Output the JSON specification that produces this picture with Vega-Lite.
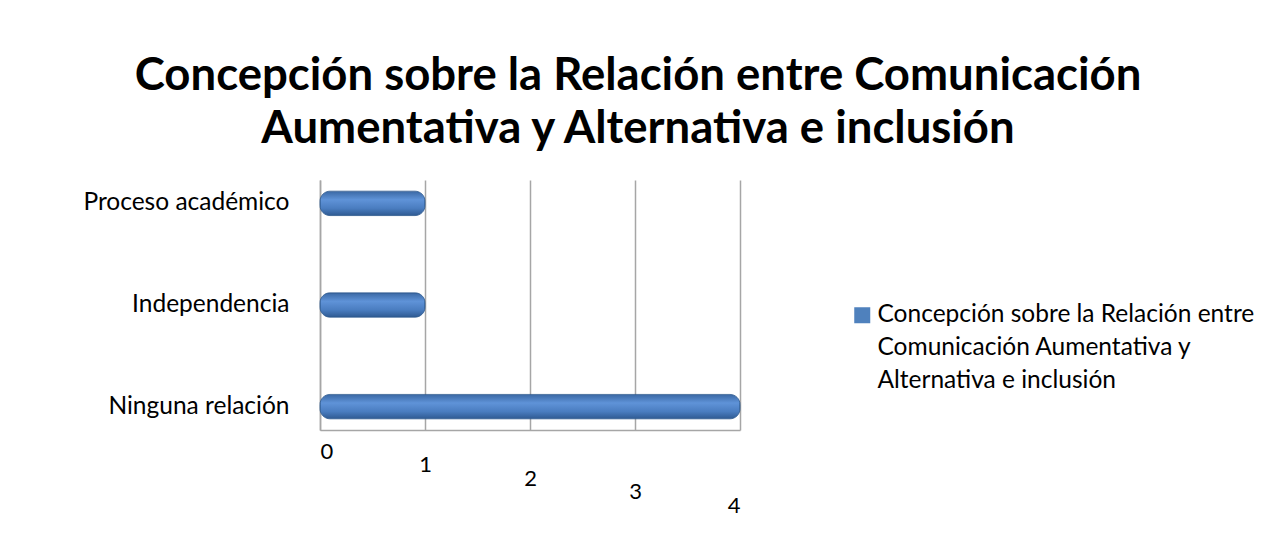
{
  "$schema": "https://vega.github.io/schema/vega-lite/v6.json",
  "autosize": "none",
  "width": 420,
  "height": 250,
  "padding": {"left": 320, "top": 180, "right": 541, "bottom": 107},
  "background": "white",
  "title": {
    "text": ["Concepción sobre la Relación entre Comunicación", "Aumentativa y Alternativa e inclusión"],
    "font": "Lato",
    "fontSize": 45.5,
    "fontWeight": "bold",
    "color": "#000000",
    "anchor": "middle",
    "frame": "group",
    "dx": 108,
    "lineHeight": 53,
    "offset": 28
  },
  "config": {
    "view": {"stroke": null},
    "font": "Lato"
  },
  "data": {
    "values": [
      {"categoria": "Proceso académico", "valor": 1, "serie": "Concepción sobre la Relación entre Comunicación Aumentativa y Alternativa e inclusión"},
      {"categoria": "Independencia", "valor": 1, "serie": "Concepción sobre la Relación entre Comunicación Aumentativa y Alternativa e inclusión"},
      {"categoria": "Ninguna relación", "valor": 4, "serie": "Concepción sobre la Relación entre Comunicación Aumentativa y Alternativa e inclusión"}
    ]
  },
  "encoding": {
    "y": {
      "field": "categoria",
      "type": "nominal",
      "sort": ["Proceso académico", "Independencia", "Ninguna relación"],
      "scale": {"paddingInner": 0.76, "paddingOuter": 0.11},
      "axis": {
        "title": null,
        "ticks": false,
        "domain": true,
        "domainColor": "#a6a6a6",
        "domainWidth": 1.5,
        "labelFont": "Lato",
        "labelFontSize": 24.5,
        "labelColor": "#000000",
        "labelPadding": 31,
        "labelLimit": 400
      }
    },
    "x": {
      "field": "valor",
      "type": "quantitative",
      "scale": {"domain": [0, 4], "nice": false},
      "axis": {
        "title": null,
        "values": [0, 1, 2, 3, 4],
        "format": "d",
        "grid": true,
        "gridColor": "#a6a6a6",
        "gridWidth": 1.5,
        "domainColor": "#a6a6a6",
        "domainWidth": 1.5,
        "ticks": false,
        "labelFont": "Lato",
        "labelFontSize": 22,
        "labelColor": "#000000",
        "labelPadding": {"expr": "11 + datum.value * 13.5"}
      }
    }
  },
  "layer": [
    {
      "mark": {
        "type": "bar",
        "cornerRadius": 10,
        "stroke": "#2f5a8f",
        "strokeWidth": 0.8,
        "fill": {
          "gradient": "linear",
          "x1": 0, "y1": 0, "x2": 0, "y2": 1,
          "stops": [
            {"offset": 0, "color": "#3a68a4"},
            {"offset": 0.35, "color": "#5f93d8"},
            {"offset": 0.7, "color": "#4a7dc0"},
            {"offset": 1, "color": "#2f5a92"}
          ]
        }
      }
    },
    {
      "mark": {"type": "bar", "opacity": 0},
      "encoding": {
        "color": {
          "field": "serie",
          "type": "nominal",
          "scale": {"range": ["#4f81bd"]},
          "legend": {
            "title": null,
            "orient": "none",
            "legendX": 530,
            "legendY": 123,
            "symbolType": "square",
            "symbolSize": 256,
            "symbolOpacity": 1,
            "symbolStrokeWidth": 0,
            "labelFont": "Lato",
            "labelFontSize": 24.5,
            "labelColor": "#000000",
            "labelLimit": 600,
            "labelBaseline": "top",
            "labelOffset": 3,
            "labelExpr": "['Concepción sobre la Relación entre', 'Comunicación Aumentativa y', 'Alternativa e inclusión']",
            "encode": {
              "labels": {
                "update": {
                  "lineHeight": {"value": 33},
                  "dy": {"value": -12}
                }
              }
            }
          }
        }
      }
    }
  ]
}
